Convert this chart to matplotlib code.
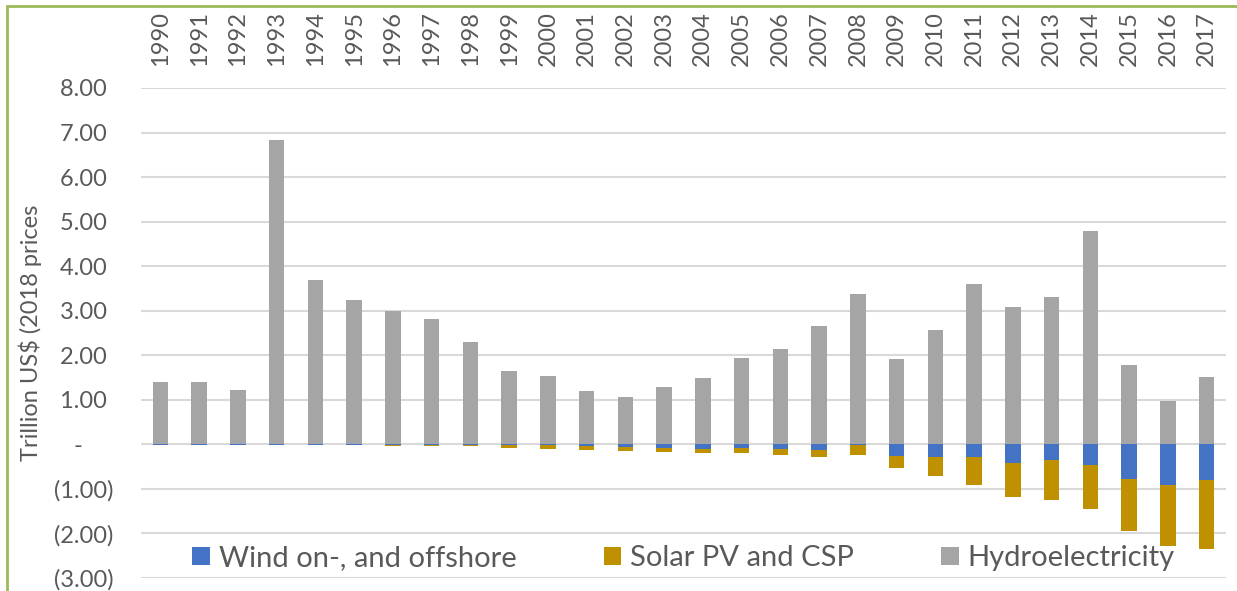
import numpy as np
import matplotlib
matplotlib.use('Agg')
from matplotlib import pyplot as plt
from matplotlib.patches import Rectangle

# Values (trillion US$, 2018 prices)
years = [str(y) for y in range(1990, 2018)]

hydro = [1.40, 1.41, 1.23, 6.83, 3.69, 3.25, 2.99, 2.81, 2.29, 1.64,
         1.53, 1.19, 1.06, 1.28, 1.48, 1.93, 2.13, 2.65, 3.37, 1.91,
         2.56, 3.60, 3.08, 3.30, 4.79, 1.78, 0.97, 1.51]

wind = [-0.005, -0.005, -0.005, -0.005, -0.005, -0.008, -0.010, -0.010, -0.012, -0.015,
        -0.02, -0.04, -0.06, -0.09, -0.10, -0.075, -0.10, -0.12, -0.02, -0.25,
        -0.28, -0.28, -0.41, -0.36, -0.46, -0.77, -0.91, -0.81]

solar = [-0.010, -0.010, -0.010, -0.012, -0.012, -0.015, -0.020, -0.025, -0.035, -0.060,
         -0.08, -0.09, -0.08, -0.09, -0.09, -0.125, -0.14, -0.17, -0.22, -0.29,
         -0.42, -0.63, -0.77, -0.90, -1.00, -1.17, -1.37, -1.53]

labels = ['Wind on-, and offshore', 'Solar PV and CSP', 'Hydroelectricity']
colors = ['#4472C4', '#BF9000', '#A5A5A5']

plt.rcParams['font.family'] = ['Lato', 'DejaVu Sans']

fig = plt.figure(figsize=(12.37, 5.91), dpi=100)
ax = fig.add_axes([141 / 1237, 1 - 578 / 591, (1226 - 141) / 1237, (578 - 88) / 591])

x = np.arange(len(years))
w = 0.4
ax.bar(x, wind, w, color=colors[0], label=labels[0], zorder=3)
ax.bar(x, solar, w, bottom=wind, color=colors[1], label=labels[1], zorder=3)
ax.bar(x, hydro, w, color=colors[2], label=labels[2], zorder=3)

ax.set_xlim(-0.5, len(years) - 0.5)
ax.set_ylim(-3, 8)

# Year labels on top
ax.xaxis.tick_top()
ax.set_xticks(x)
ax.set_xticklabels(years, rotation=90, fontsize=17, color='#595959')
ax.tick_params(axis='x', length=0, pad=16)

# Accounting style y labels
yt = np.arange(-3, 9)
ylab = []
for v in yt:
    if v > 0:
        ylab.append('%.2f ' % v)
    elif v == 0:
        ylab.append('-     ')
    else:
        ylab.append('(%.2f)' % abs(v))
ax.set_yticks(yt)
ax.set_yticklabels(ylab, fontsize=17, color='#595959')
ax.tick_params(axis='y', length=0, pad=20)

ax.grid(axis='y', color='#D9D9D9', linewidth=1.5, zorder=0)
for s in ax.spines.values():
    s.set_visible(False)

fig.text(30 / 1237, 1 - 333 / 591, 'Trillion US$ (2018 prices', rotation=90, fontsize=17,
         color='#595959', ha='center', va='center')

ax.legend(loc='lower center', bbox_to_anchor=(0.5, -0.04), ncol=3, frameon=False,
          fontsize=21, labelcolor='#595959', handlelength=0.6, handleheight=0.6,
          handletextpad=0.3, columnspacing=3.0)

# Olive chart border
fig.patches.append(Rectangle((7 / 1237, -0.1), 1.2, 1 - 6 / 591 + 0.1, transform=fig.transFigure,
                             fill=False, edgecolor='#9BBB59', linewidth=2))

fig.savefig('out.png', dpi=100)
